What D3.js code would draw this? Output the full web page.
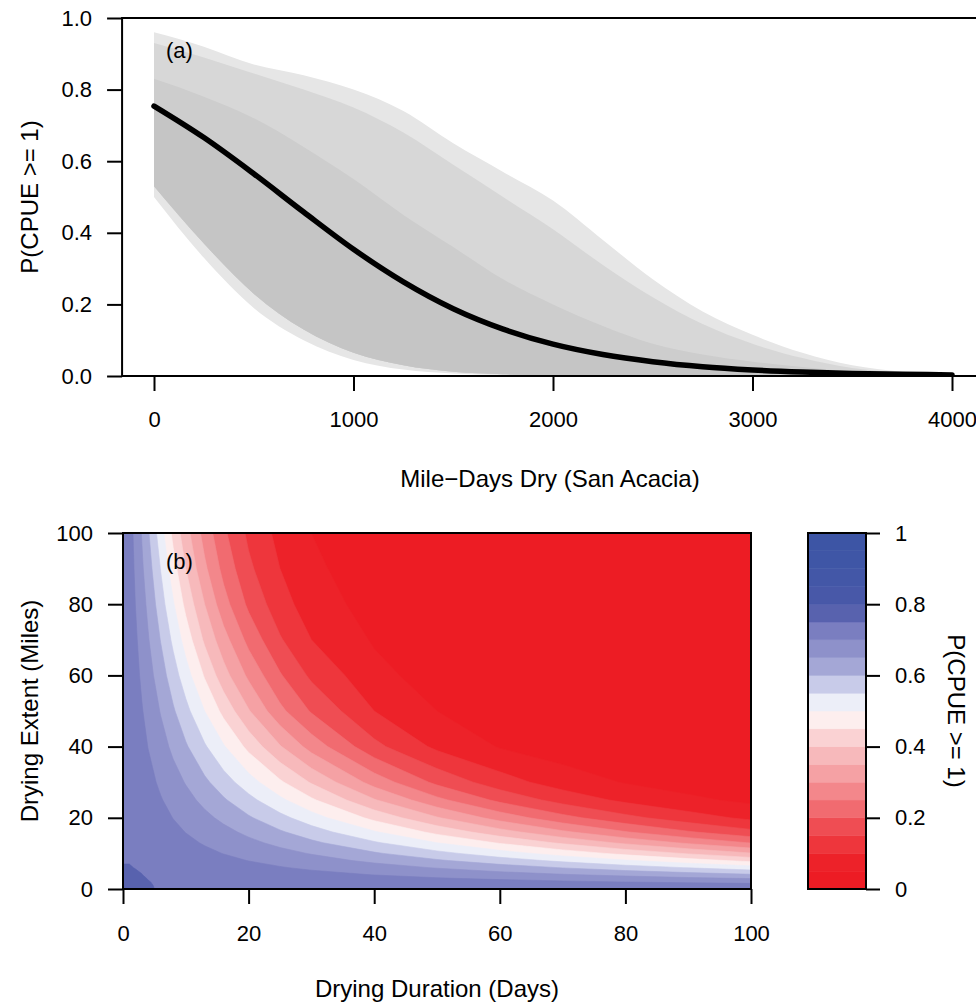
<!DOCTYPE html>
<html><head><meta charset="utf-8">
<script src="https://cdn.jsdelivr.net/npm/d3@7"></script>
<style>
html,body{margin:0;padding:0;background:#fff;}
svg{display:block;}
</style></head><body>
<svg id="chart" width="976" height="1005"></svg>
<script>
// ================= DATA =================
// Panel (a): posterior curves vs mile-days dry
const mileDays = [0,250,500,750,1000,1250,1500,1750,2000,2250,2500,2750,3000,3250,3500,3750,4000];
const meanP    = [0.754,0.666,0.565,0.458,0.354,0.263,0.188,0.131,0.089,0.060,0.040,0.026,0.017,0.011,0.007,0.005,0.003];
const envMax   = [0.96,0.92,0.87,0.84,0.80,0.74,0.65,0.57,0.49,0.38,0.27,0.18,0.115,0.065,0.03,0.012,0.004];
const envHigh  = [0.93,0.89,0.845,0.80,0.75,0.68,0.59,0.50,0.41,0.31,0.22,0.145,0.09,0.05,0.022,0.009,0.003];
const envDense = [0.83,0.78,0.72,0.64,0.55,0.45,0.36,0.27,0.20,0.14,0.09,0.06,0.04,0.025,0.012,0.006,0.002];
const envLow   = [0.53,0.37,0.23,0.13,0.065,0.03,0.012,0.005,0.002,0.001,0,0,0,0,0,0,0];
const envMin   = [0.50,0.33,0.19,0.10,0.045,0.018,0.007,0.003,0.001,0,0,0,0,0,0,0,0];
const xTicksA  = [0,1000,2000,3000,4000];
const yTicksA  = [0,0.2,0.4,0.6,0.8,1.0];

// Panel (b): P(CPUE >= 1) over drying duration (columns) x drying extent (rows)
const durationGrid = [0,1,2,3,4,6,8,10,13,16,20,25,30,40,50,60,70,80,90,100];
const extentGrid   = [0,1,2,3,4,6,8,10,13,16,20,25,30,40,50,60,70,80,90,100];
const pGrid = [
 [0.775,0.769,0.764,0.758,0.753,0.747,0.746,0.745,0.744,0.743,0.742,0.741,0.740,0.739,0.738,0.737,0.736,0.735,0.734,0.733],
 [0.770,0.768,0.763,0.758,0.752,0.747,0.746,0.746,0.745,0.745,0.744,0.743,0.742,0.741,0.738,0.734,0.731,0.728,0.724,0.721],
 [0.766,0.764,0.761,0.756,0.751,0.746,0.745,0.745,0.744,0.743,0.741,0.738,0.734,0.728,0.721,0.714,0.707,0.699,0.692,0.685],
 [0.761,0.760,0.757,0.753,0.749,0.745,0.744,0.743,0.741,0.738,0.734,0.729,0.724,0.714,0.703,0.692,0.681,0.670,0.658,0.647],
 [0.757,0.756,0.754,0.7505,0.746,0.745,0.743,0.741,0.737,0.733,0.728,0.721,0.714,0.699,0.685,0.670,0.654,0.639,0.623,0.606],
 [0.752,0.752,0.749,0.747,0.746,0.742,0.738,0.734,0.728,0.722,0.714,0.703,0.692,0.670,0.647,0.623,0.598,0.573,0.548,0.522],
 [0.748,0.748,0.747,0.746,0.744,0.738,0.733,0.728,0.719,0.711,0.699,0.685,0.670,0.639,0.606,0.573,0.539,0.505,0.470,0.436],
 [0.748,0.747,0.746,0.744,0.741,0.734,0.728,0.721,0.710,0.699,0.685,0.666,0.647,0.606,0.565,0.522,0.479,0.436,0.395,0.354],
 [0.747,0.746,0.745,0.741,0.737,0.728,0.719,0.710,0.696,0.682,0.662,0.637,0.610,0.556,0.500,0.445,0.391,0.339,0.291,0.247],
 [0.746,0.745,0.744,0.738,0.733,0.722,0.711,0.699,0.682,0.664,0.639,0.606,0.573,0.505,0.436,0.370,0.309,0.253,0.205,0.164],
 [0.745,0.744,0.741,0.734,0.728,0.714,0.699,0.685,0.662,0.639,0.606,0.565,0.522,0.436,0.354,0.280,0.216,0.164,0.122,0.089],
 [0.744,0.743,0.738,0.729,0.721,0.703,0.685,0.666,0.637,0.606,0.565,0.511,0.458,0.354,0.263,0.188,0.131,0.089,0.060,0.040],
 [0.743,0.742,0.734,0.724,0.714,0.692,0.670,0.647,0.610,0.573,0.522,0.458,0.395,0.280,0.188,0.122,0.076,0.047,0.029,0.017],
 [0.742,0.741,0.728,0.714,0.699,0.670,0.639,0.606,0.556,0.505,0.436,0.354,0.280,0.164,0.089,0.047,0.024,0.012,0.006,0.003],
 [0.741,0.738,0.721,0.703,0.685,0.647,0.606,0.565,0.500,0.436,0.354,0.263,0.195,0.100,0.050,0.022,0.008,0.003,0.001,0.001],
 [0.740,0.734,0.714,0.692,0.670,0.623,0.573,0.522,0.445,0.370,0.290,0.205,0.140,0.065,0.028,0.010,0.004,0.001,0.000,0.000],
 [0.739,0.731,0.707,0.681,0.654,0.598,0.539,0.479,0.391,0.320,0.235,0.155,0.100,0.045,0.018,0.006,0.002,0.000,0.000,0.000],
 [0.738,0.728,0.699,0.670,0.639,0.573,0.505,0.436,0.350,0.270,0.190,0.120,0.075,0.030,0.010,0.003,0.001,0.000,0.000,0.000],
 [0.737,0.724,0.692,0.658,0.623,0.548,0.470,0.400,0.310,0.235,0.160,0.100,0.060,0.022,0.008,0.002,0.000,0.000,0.000,0.000],
 [0.736,0.721,0.685,0.647,0.606,0.522,0.436,0.370,0.280,0.210,0.140,0.085,0.050,0.018,0.006,0.001,0.000,0.000,0.000,0.000]
];
const contourLevels = [0,0.05,0.1,0.15,0.2,0.25,0.3,0.35,0.4,0.45,0.5,0.55,0.6,0.65,0.7,0.75,0.8,0.85,0.9,0.95,1];
const xTicksB  = [0,20,40,60,80,100];
const yTicksB  = [0,20,40,60,80,100];
const cbTicks  = [0,0.2,0.4,0.6,0.8,1];

// ================= STYLE =================
const bandColors = ["#ed1c24","#ed2229","#ee363c","#ef4d53","#f16b70","#f3878b","#f5a1a4","#f7b9bb","#fad2d3","#fdeeee",
                    "#eceef8","#c8cbe9","#a4a7d6","#8e91ca","#7a7ec0","#5862ae","#4858a8","#4357a7","#3f56a6","#3d55a5"];
const FONT = "'Liberation Sans', Arial, Helvetica, sans-serif";
const FS = 22;   // tick labels
const FT = 24;   // axis titles

const svg = d3.select("#chart");

function styleAxis(g){
  g.select(".domain").remove();
  g.selectAll(".tick line").attr("stroke","#000").attr("stroke-width",2);
  g.selectAll(".tick text").attr("fill","#000").attr("font-size",FS).attr("font-family",FONT);
}

// ================= PANEL (a) =================
const xA = d3.scaleLinear().domain([0,4000]).range([154,952]);
const yA = d3.scaleLinear().domain([0,1]).range([376,18]);
const padA = 0.04*(d3.max(mileDays)-d3.min(mileDays));
const aL = xA(d3.min(mileDays)-padA), aR = xA(d3.max(mileDays)+padA);

svg.append("clipPath").attr("id","clipA").append("rect")
  .attr("x",aL).attr("y",yA(1)).attr("width",aR-aL).attr("height",yA(0)-yA(1));

const gA = svg.append("g").attr("clip-path","url(#clipA)");
const band = (lo,hi) => d3.area()
  .x((d,i)=>xA(mileDays[i])).y0((d,i)=>yA(lo[i])).y1((d,i)=>yA(hi[i]))
  .curve(d3.curveMonotoneX)(mileDays);
gA.append("path").attr("d",band(envMin,envMax)).attr("fill","#e6e6e6");
gA.append("path").attr("d",band(envLow,envHigh)).attr("fill","#d7d7d7");
gA.append("path").attr("d",band(envLow,envDense)).attr("fill","#cdcdcd");
gA.append("path").attr("d",band(envLow,meanP)).attr("fill","#c5c5c5");
gA.append("path")
  .attr("d", d3.line().x((d,i)=>xA(mileDays[i])).y(d=>yA(d)).curve(d3.curveMonotoneX)(meanP))
  .attr("fill","none").attr("stroke","#000").attr("stroke-width",5.5).attr("stroke-linecap","round");

svg.append("rect").attr("x",aL).attr("y",yA(1)).attr("width",aR-aL).attr("height",yA(0)-yA(1))
  .attr("fill","none").attr("stroke","#000").attr("stroke-width",2);

svg.append("g").attr("transform",`translate(${aL},0)`)
  .call(d3.axisLeft(yA).tickValues(yTicksA).tickFormat(d3.format(".1f")).tickSize(15).tickPadding(15))
  .call(styleAxis);
svg.append("g").attr("transform",`translate(0,${yA(0)})`)
  .call(d3.axisBottom(xA).tickValues(xTicksA).tickFormat(d3.format("d")).tickSize(15).tickPadding(20))
  .call(styleAxis);

svg.append("text").attr("x",(aL+aR)/2 - 3).attr("y",487).attr("text-anchor","middle")
  .attr("font-family",FONT).attr("font-size",FT).text("Mile\u2212Days Dry (San Acacia)");
svg.append("text").attr("transform",`translate(38,${(yA(0)+yA(1))/2}) rotate(-90)`).attr("text-anchor","middle")
  .attr("font-family",FONT).attr("font-size",FT).text("P(CPUE >= 1)");
svg.append("text").attr("x",166).attr("y",57.5).attr("font-family",FONT).attr("font-size",FS).text("(a)");

// ================= PANEL (b) =================
const xB = d3.scaleLinear().domain([0,100]).range([123,751]);
const yB = d3.scaleLinear().domain([0,100]).range([889,533]);
const nD = durationGrid.length, nE = extentGrid.length;
const idxD = d3.scaleLinear().domain(d3.range(nD)).range(durationGrid).clamp(true);
const idxE = d3.scaleLinear().domain(d3.range(nE)).range(extentGrid).clamp(true);
const flat = pGrid.flat();
const contours = d3.contours().size([nD,nE]).thresholds(contourLevels.slice(0,-1))(flat);
const proj = d3.geoTransform({ point(x,y){ this.stream.point(xB(idxD(x-0.5)), yB(idxE(y-0.5))); } });
const pathB = d3.geoPath(proj);

svg.append("clipPath").attr("id","clipB").append("rect")
  .attr("x",xB(0)).attr("y",yB(100)).attr("width",xB(100)-xB(0)).attr("height",yB(0)-yB(100));
const gB = svg.append("g").attr("clip-path","url(#clipB)");
gB.selectAll("path").data(contours).join("path")
  .attr("d",pathB)
  .attr("fill",(d,i)=>bandColors[i])
  .attr("stroke",(d,i)=>bandColors[i]).attr("stroke-width",0.6);

svg.append("rect").attr("x",xB(0)).attr("y",yB(100)).attr("width",xB(100)-xB(0)).attr("height",yB(0)-yB(100))
  .attr("fill","none").attr("stroke","#000").attr("stroke-width",2);

svg.append("g").attr("transform",`translate(${xB(0)},0)`)
  .call(d3.axisLeft(yB).tickValues(yTicksB).tickFormat(d3.format("d")).tickSize(15).tickPadding(15))
  .call(styleAxis);
svg.append("g").attr("transform",`translate(0,${yB(0)})`)
  .call(d3.axisBottom(xB).tickValues(xTicksB).tickFormat(d3.format("d")).tickSize(15).tickPadding(21))
  .call(styleAxis);

svg.append("text").attr("x",(xB(0)+xB(100))/2).attr("y",997).attr("text-anchor","middle")
  .attr("font-family",FONT).attr("font-size",FT).text("Drying Duration (Days)");
svg.append("text").attr("transform",`translate(38,${(yB(0)+yB(100))/2}) rotate(-90)`).attr("text-anchor","middle")
  .attr("font-family",FONT).attr("font-size",FT).text("Drying Extent (Miles)");
svg.append("text").attr("x",166).attr("y",568.5).attr("font-family",FONT).attr("font-size",FS).text("(b)");

// ================= COLOR BAR =================
const yC = d3.scaleLinear().domain([0,1]).range([889,533]);
const cbL = 808, cbR = 866;
svg.append("g").selectAll("rect").data(bandColors).join("rect")
  .attr("x",cbL).attr("width",cbR-cbL)
  .attr("y",(d,i)=>yC(contourLevels[i+1]))
  .attr("height",(d,i)=>yC(contourLevels[i])-yC(contourLevels[i+1]))
  .attr("fill",d=>d).attr("stroke",d=>d).attr("stroke-width",0.5);
svg.append("rect").attr("x",cbL).attr("y",yC(1)).attr("width",cbR-cbL).attr("height",yC(0)-yC(1))
  .attr("fill","none").attr("stroke","#000").attr("stroke-width",2);
svg.append("g").attr("transform",`translate(${cbR},0)`)
  .call(d3.axisRight(yC).tickValues(cbTicks).tickFormat(d=>String(d)).tickSize(14).tickPadding(15))
  .call(styleAxis);
svg.append("text").attr("transform",`translate(948,${(yC(0)+yC(1))/2}) rotate(90)`).attr("text-anchor","middle")
  .attr("font-family",FONT).attr("font-size",FT).text("P(CPUE >= 1)");
</script>
</body></html>
